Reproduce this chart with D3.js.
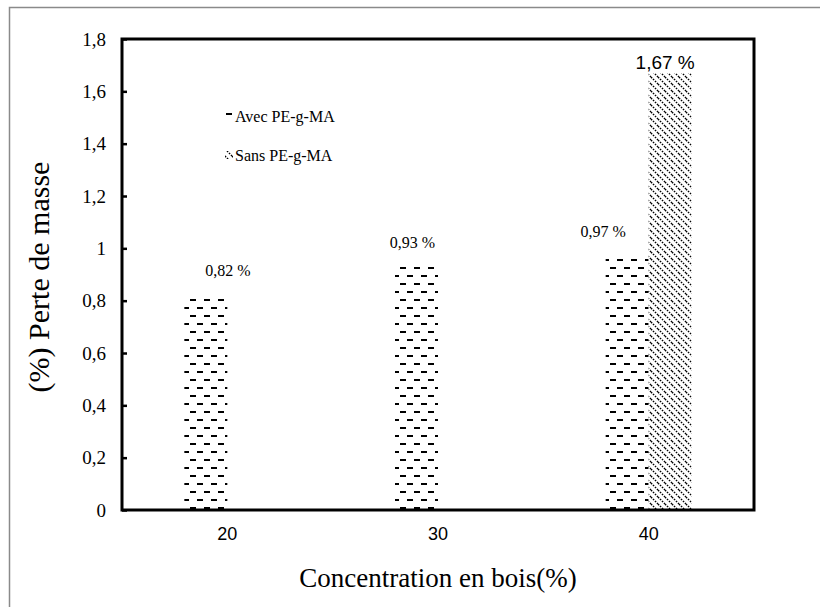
<!DOCTYPE html>
<html>
<head>
<meta charset="utf-8">
<script src="https://cdn.jsdelivr.net/npm/d3@7"></script>
<style>
  html, body { margin: 0; padding: 0; background: #fff; }
  svg { display: block; }
</style>
</head>
<body>
<svg id="chart" width="820" height="607"></svg>
<script>
// Wood concentration categories and mass-loss values (%)
const categories = ["20", "30", "40"];
const series = ["Avec PE-g-MA", "Sans PE-g-MA"];
const avecValues = [0.82, 0.93, 0.97];
const sansValues = [null, null, 1.67];
const avecLabels = ["0,82 %", "0,93 %", "0,97 %"];
const sansLabels = [null, null, "1,67 %"];
const yTicks = [0, 0.2, 0.4, 0.6, 0.8, 1, 1.2, 1.4, 1.6, 1.8];

const svg = d3.select("#chart");
const serif = "'Liberation Serif', 'Times New Roman', serif";
const sans = "'Liberation Sans', Arial, sans-serif";

// Plot frame
const plot = { left: 122, right: 754, top: 39, bottom: 510 };

const x = d3.scaleBand().domain(categories).range([plot.left, plot.right]);
const xs = d3.scaleBand().domain(series)
  .range([x.bandwidth() / 2 - 43, x.bandwidth() / 2 + 43]);
const y = d3.scaleLinear().domain([0, 1.8]).range([plot.bottom, plot.top]);

// Fill patterns
const defs = svg.append("defs");
const pDash = defs.append("pattern").attr("id", "pat-dash")
  .attr("patternUnits", "userSpaceOnUse").attr("width", 14).attr("height", 16);
pDash.append("rect").attr("width", 14).attr("height", 16).attr("fill", "#fff");
pDash.append("rect").attr("x", 1).attr("y", 3).attr("width", 6).attr("height", 2).attr("fill", "#000");
pDash.append("rect").attr("x", 8).attr("y", 11).attr("width", 6).attr("height", 2).attr("fill", "#000");

const pDiag = defs.append("pattern").attr("id", "pat-diag")
  .attr("patternUnits", "userSpaceOnUse").attr("width", 7).attr("height", 7);
pDiag.append("rect").attr("width", 7).attr("height", 7).attr("fill", "#fff");
pDiag.append("path")
  .attr("d", "M0,0L7,7M-1,6L1,8M6,-1L8,1")
  .attr("stroke", "#000").attr("stroke-width", 1.4)
  .attr("stroke-dasharray", "1.6,1.2");

// Outer chart border
svg.append("rect").attr("x", 9.5).attr("y", 7.5).attr("width", 900).attr("height", 700)
  .attr("fill", "none").attr("stroke", "#8a8a8a").attr("stroke-width", 1.5);

// Bars
const gBars = svg.append("g");
gBars.selectAll("rect.avec").data(categories).join("rect")
  .attr("class", "avec")
  .attr("x", (c) => x(c) + xs(series[0]))
  .attr("width", xs.bandwidth())
  .attr("y", (c, i) => y(avecValues[i]))
  .attr("height", (c, i) => y(0) - y(avecValues[i]))
  .attr("fill", "url(#pat-dash)");
gBars.selectAll("rect.sans").data(categories.filter((c, i) => sansValues[i] != null)).join("rect")
  .attr("class", "sans")
  .attr("x", (c) => x(c) + xs(series[1]))
  .attr("width", xs.bandwidth())
  .attr("y", (c) => y(sansValues[categories.indexOf(c)]))
  .attr("height", (c) => y(0) - y(sansValues[categories.indexOf(c)]))
  .attr("fill", "url(#pat-diag)");

// Value labels
const avecLabelDx = [22, -4, -24];
svg.append("g").selectAll("text").data(categories).join("text")
  .attr("x", (c, i) => x(c) + xs(series[0]) + xs.bandwidth() / 2 + avecLabelDx[i])
  .attr("y", (c, i) => y(avecValues[i]) - 19)
  .attr("text-anchor", "middle")
  .attr("font-family", serif).attr("font-size", 16)
  .text((c, i) => avecLabels[i]);
svg.append("g").selectAll("text").data(categories.filter((c, i) => sansLabels[i] != null)).join("text")
  .attr("x", (c) => x(c) + xs(series[1]) + xs.bandwidth() / 2 - 5)
  .attr("y", (c) => y(sansValues[categories.indexOf(c)]) - 4)
  .attr("text-anchor", "middle")
  .attr("font-family", sans).attr("font-size", 19)
  .text((c) => sansLabels[categories.indexOf(c)]);

// Y axis ticks (inward) and labels
const fmt = (v) => String(+v.toFixed(1)).replace(".", ",");
const yAxis = d3.axisLeft(y).tickValues(yTicks).tickSize(-5).tickPadding(16).tickFormat(fmt);
const gy = svg.append("g").attr("transform", `translate(${plot.left},0)`).call(yAxis);
gy.attr("font-family", serif);
gy.select(".domain").remove();
gy.selectAll(".tick line").attr("stroke", "#000").attr("stroke-width", 2.5);
gy.selectAll(".tick text").attr("font-family", serif).attr("font-size", 19).attr("fill", "#000");

// X axis labels
const xAxis = d3.axisBottom(x).tickSize(0).tickPadding(17);
const gx = svg.append("g").attr("transform", `translate(0,${plot.bottom})`).call(xAxis);
gx.attr("font-family", sans);
gx.select(".domain").remove();
gx.selectAll(".tick text").attr("font-family", sans).attr("font-size", 18).attr("fill", "#000");

// Plot frame
svg.append("rect")
  .attr("x", plot.left).attr("y", plot.top)
  .attr("width", plot.right - plot.left).attr("height", plot.bottom - plot.top)
  .attr("fill", "none").attr("stroke", "#000").attr("stroke-width", 3);

// Axis titles
svg.append("text")
  .attr("x", (plot.left + plot.right) / 2).attr("y", 587)
  .attr("text-anchor", "middle")
  .attr("font-family", serif).attr("font-size", 27)
  .text("Concentration en bois(%)");
svg.append("text")
  .attr("transform", `translate(49,277) rotate(-90)`)
  .attr("text-anchor", "middle")
  .attr("font-family", serif).attr("font-size", 30)
  .text("(%) Perte de masse");

// Legend
const legend = svg.append("g").attr("transform", "translate(225,110)");
const swatchFill = ["url(#pat-dash)", "url(#pat-diag)"];
series.forEach((s, i) => {
  const row = legend.append("g").attr("transform", `translate(0,${i * 39})`);
  row.append("rect").attr("x", 0).attr("y", 2).attr("width", 8).attr("height", 8)
    .attr("fill", swatchFill[i]);
  row.append("text").attr("x", 10).attr("y", 12)
    .attr("font-family", serif).attr("font-size", 16)
    .text(s);
});
</script>
</body>
</html>
